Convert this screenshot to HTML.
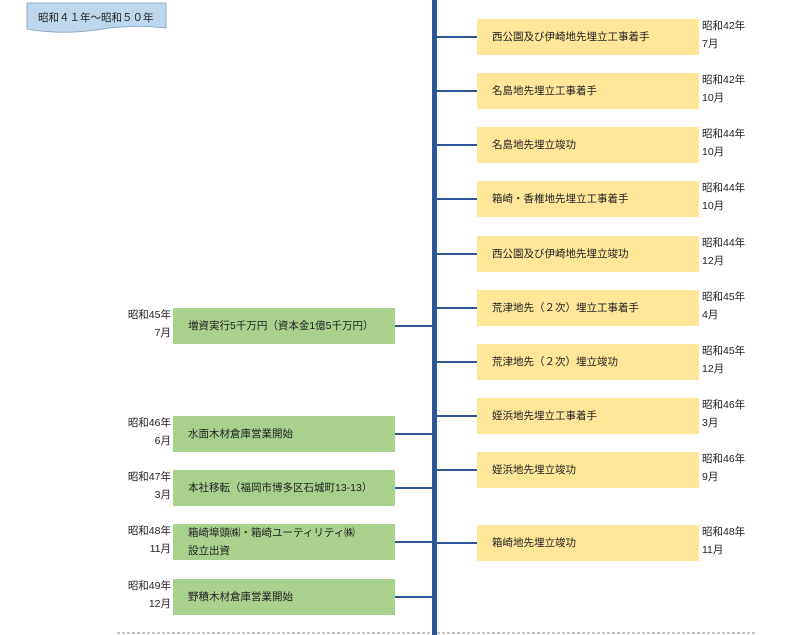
<!DOCTYPE html>
<html><head><meta charset="utf-8"><style>
body{margin:0;width:794px;height:635px;background:#fff;position:relative;overflow:hidden;font-family:"Liberation Sans","Noto Sans CJK JP",sans-serif;font-size:10.5px;color:#222}
.b{position:absolute;height:36px;box-sizing:border-box;padding-left:15px;line-height:36px;white-space:nowrap}
.r{left:477px;width:222px;background:#ffe699}
.l{left:173px;width:222px;background:#a9d18e}
.d{position:absolute;line-height:18px;white-space:nowrap}
.dr{left:702px}
.dl{right:623px;text-align:right}
.h{position:absolute;height:2px;background:#2f5597}
</style></head><body>
<svg style="position:absolute;left:0;top:0" width="794" height="635">
<path d="M27 3 H166 V28 Q130 24 96 30 Q60 35 27 29 Z" fill="#bdd7ee" stroke="#7f9fbf" stroke-width="0.8"/>
<line x1="117" y1="633" x2="757" y2="633" stroke="#888" stroke-width="1" stroke-dasharray="3,2"/>
<rect x="432" y="0" width="5" height="635" fill="#2f5597"/>
</svg>
<div style="position:absolute;left:38px;top:10px;font-size:10.5px">昭和４１年～昭和５０年</div>

<div class="b r" style="top:19px">西公園及び伊崎地先埋立工事着手</div><div class="d dr" style="top:17px">昭和42年<br>7月</div><div class="h" style="left:437px;width:40px;top:36px"></div>
<div class="b r" style="top:73px">名島地先埋立工事着手</div><div class="d dr" style="top:71px">昭和42年<br>10月</div><div class="h" style="left:437px;width:40px;top:90px"></div>
<div class="b r" style="top:127px">名島地先埋立竣功</div><div class="d dr" style="top:125px">昭和44年<br>10月</div><div class="h" style="left:437px;width:40px;top:144px"></div>
<div class="b r" style="top:181px">箱崎・香椎地先埋立工事着手</div><div class="d dr" style="top:179px">昭和44年<br>10月</div><div class="h" style="left:437px;width:40px;top:198px"></div>
<div class="b r" style="top:236px">西公園及び伊崎地先埋立竣功</div><div class="d dr" style="top:234px">昭和44年<br>12月</div><div class="h" style="left:437px;width:40px;top:253px"></div>
<div class="b r" style="top:290px">荒津地先（２次）埋立工事着手</div><div class="d dr" style="top:288px">昭和45年<br>4月</div><div class="h" style="left:437px;width:40px;top:307px"></div>
<div class="b r" style="top:344px">荒津地先（２次）埋立竣功</div><div class="d dr" style="top:342px">昭和45年<br>12月</div><div class="h" style="left:437px;width:40px;top:361px"></div>
<div class="b r" style="top:398px">姪浜地先埋立工事着手</div><div class="d dr" style="top:396px">昭和46年<br>3月</div><div class="h" style="left:437px;width:40px;top:415px"></div>
<div class="b r" style="top:452px">姪浜地先埋立竣功</div><div class="d dr" style="top:450px">昭和46年<br>9月</div><div class="h" style="left:437px;width:40px;top:469px"></div>
<div class="b r" style="top:525px">箱崎地先埋立竣功</div><div class="d dr" style="top:523px">昭和48年<br>11月</div><div class="h" style="left:437px;width:40px;top:542px"></div>

<div class="b l" style="top:308px">増資実行5千万円（資本金1億5千万円）</div><div class="d dl" style="top:306px">昭和45年<br>7月</div><div class="h" style="left:395px;width:37px;top:325px"></div>
<div class="b l" style="top:416px">水面木材倉庫営業開始</div><div class="d dl" style="top:414px">昭和46年<br>6月</div><div class="h" style="left:395px;width:37px;top:433px"></div>
<div class="b l" style="top:470px">本社移転（福岡市博多区石城町13-13）</div><div class="d dl" style="top:468px">昭和47年<br>3月</div><div class="h" style="left:395px;width:37px;top:487px"></div>
<div class="b l" style="top:524px;line-height:18px">箱崎埠頭㈱・箱崎ユーティリティ㈱<br>設立出資</div><div class="d dl" style="top:522px">昭和48年<br>11月</div><div class="h" style="left:395px;width:37px;top:541px"></div>
<div class="b l" style="top:579px">野積木材倉庫営業開始</div><div class="d dl" style="top:577px">昭和49年<br>12月</div><div class="h" style="left:395px;width:37px;top:596px"></div>
</body></html>
